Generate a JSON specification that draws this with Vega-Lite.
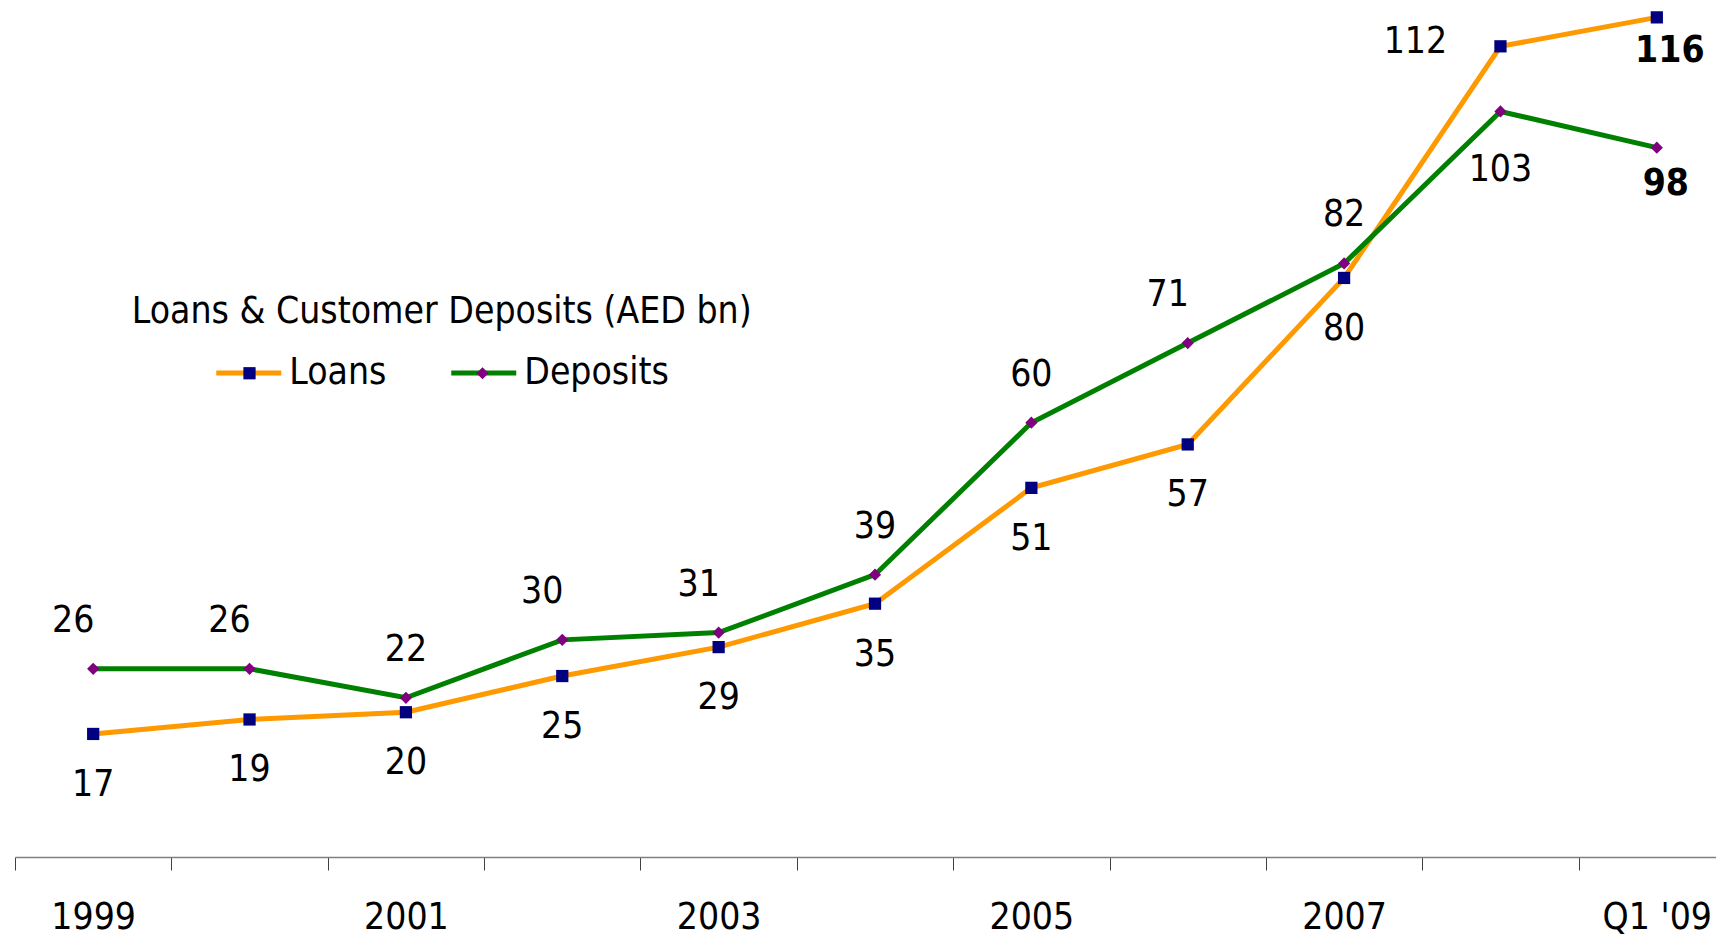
{
  "$schema": "https://vega.github.io/schema/vega-lite/v6.json",
  "width": 1716,
  "height": 857,
  "autosize": {"type": "none"},
  "padding": {"left": 0, "top": 0, "right": 0, "bottom": 79},
  "background": "white",
  "config": {
    "view": {"stroke": null},
    "font": "DejaVu Sans Condensed, Liberation Sans, sans-serif"
  },
  "data": {
    "values": [
      {"year": "1999", "series": "Loans", "value": 17},
      {"year": "2000", "series": "Loans", "value": 19},
      {"year": "2001", "series": "Loans", "value": 20},
      {"year": "2002", "series": "Loans", "value": 25},
      {"year": "2003", "series": "Loans", "value": 29},
      {"year": "2004", "series": "Loans", "value": 35},
      {"year": "2005", "series": "Loans", "value": 51},
      {"year": "2006", "series": "Loans", "value": 57},
      {"year": "2007", "series": "Loans", "value": 80},
      {"year": "2008", "series": "Loans", "value": 112},
      {"year": "Q1 '09", "series": "Loans", "value": 116},
      {"year": "1999", "series": "Deposits", "value": 26},
      {"year": "2000", "series": "Deposits", "value": 26},
      {"year": "2001", "series": "Deposits", "value": 22},
      {"year": "2002", "series": "Deposits", "value": 30},
      {"year": "2003", "series": "Deposits", "value": 31},
      {"year": "2004", "series": "Deposits", "value": 39},
      {"year": "2005", "series": "Deposits", "value": 60},
      {"year": "2006", "series": "Deposits", "value": 71},
      {"year": "2007", "series": "Deposits", "value": 82},
      {"year": "2008", "series": "Deposits", "value": 103},
      {"year": "Q1 '09", "series": "Deposits", "value": 98}
    ]
  },
  "encoding": {
    "x": {
      "field": "year",
      "type": "ordinal",
      "sort": null,
      "scale": {"type": "band", "range": [15, 1735], "paddingInner": 0, "paddingOuter": 0},
      "axis": {
        "title": null,
        "tickBand": "extent",
        "grid": false,
        "domainColor": "#7f7f7f",
        "domainWidth": 1.5,
        "tickColor": "#404040",
        "tickSize": 13,
        "tickWidth": 1,
        "labelFontSize": 37,
        "labelColor": "black",
        "labelPadding": 29,
        "labelAngle": 0,
        "labelOverlap": false,
        "labelFlush": false,
        "labelExpr": "indexof(['1999', '2001', '2003', '2005', '2007', \"Q1 '09\"], datum.value) >= 0 ? datum.label : ''"
      }
    },
    "y": {
      "field": "value",
      "type": "quantitative",
      "scale": {"domain": [0, 118.4], "nice": false},
      "axis": null
    }
  },
  "layer": [
    {
      "mark": {"type": "line", "strokeWidth": 5},
      "encoding": {
        "stroke": {
          "field": "series",
          "type": "nominal",
          "scale": {"domain": ["Loans", "Deposits"], "range": ["#FF9900", "#008000"]},
          "legend": {
            "orient": "none",
            "legendX": 131.75,
            "legendY": 294,
            "zindex": 0,
            "padding": 0,
            "direction": "horizontal",
            "title": "Loans & Customer Deposits (AED bn)",
            "titleFontSize": 37,
            "titleFontWeight": "normal",
            "titleColor": "black",
            "titleAnchor": "middle",
            "titleLimit": 1000,
            "titlePadding": 7,
            "symbolType": "stroke",
            "symbolSize": 4225,
            "symbolStrokeWidth": 5,
            "labelFontSize": 37,
            "labelColor": "black",
            "labelOffset": 5.5,
            "columnPadding": 54,
            "labelLimit": 400
          }
        }
      }
    },
    {
      "mark": {"type": "point", "filled": true, "opacity": 1, "size": 150},
      "encoding": {
        "fill": {
          "field": "series",
          "type": "nominal",
          "scale": {"domain": ["Deposits", "Loans"], "range": ["#800080", "#000080"]},
          "legend": {
            "orient": "none",
            "legendX": 243,
            "legendY": 354.5,
            "zindex": 1,
            "padding": 0,
            "direction": "horizontal",
            "title": null,
            "values": ["Loans", "Deposits"],
            "symbolSize": 150,
            "symbolOffset": -12,
            "symbolStrokeWidth": 0,
            "labelFontSize": 37,
            "labelOpacity": 0,
            "labelOffset": 0,
            "columnPadding": 110,
            "labelLimit": 400
          }
        },
        "shape": {
          "field": "series",
          "type": "nominal",
          "scale": {"domain": ["Deposits", "Loans"], "range": ["diamond", "square"]}
        }
      }
    },
    {
      "transform": [{"filter": {"and": [{"field": "series", "equal": "Loans"}, {"not": {"field": "year", "oneOf": ["2008", "Q1 '09"]}}]}}],
      "mark": {"type": "text", "fontSize": 37, "color": "black", "baseline": "middle", "align": "center", "dy": 51},
      "encoding": {"text": {"field": "value", "type": "quantitative"}}
    },
    {
      "transform": [{"filter": {"and": [{"field": "series", "equal": "Loans"}, {"field": "year", "equal": "2008"}]}}],
      "mark": {"type": "text", "fontSize": 37, "color": "black", "baseline": "middle", "align": "center", "dx": -85, "dy": -4},
      "encoding": {"text": {"field": "value", "type": "quantitative"}}
    },
    {
      "transform": [{"filter": {"and": [{"field": "series", "equal": "Loans"}, {"field": "year", "equal": "Q1 '09"}]}}],
      "mark": {"type": "text", "fontSize": 37, "fontWeight": "bold", "color": "black", "baseline": "middle", "align": "center", "dx": 13, "dy": 34},
      "encoding": {"text": {"field": "value", "type": "quantitative"}}
    },
    {
      "transform": [{"filter": {"and": [{"field": "series", "equal": "Deposits"}, {"field": "year", "oneOf": ["2001", "2004", "2005", "2007"]}]}}],
      "mark": {"type": "text", "fontSize": 37, "color": "black", "baseline": "middle", "align": "center", "dy": -48},
      "encoding": {"text": {"field": "value", "type": "quantitative"}}
    },
    {
      "transform": [{"filter": {"and": [{"field": "series", "equal": "Deposits"}, {"field": "year", "oneOf": ["1999", "2000", "2002", "2003", "2006"]}]}}],
      "mark": {"type": "text", "fontSize": 37, "color": "black", "baseline": "middle", "align": "center", "dx": -20, "dy": -48},
      "encoding": {"text": {"field": "value", "type": "quantitative"}}
    },
    {
      "transform": [{"filter": {"and": [{"field": "series", "equal": "Deposits"}, {"field": "year", "equal": "2008"}]}}],
      "mark": {"type": "text", "fontSize": 37, "color": "black", "baseline": "middle", "align": "center", "dy": 59},
      "encoding": {"text": {"field": "value", "type": "quantitative"}}
    },
    {
      "transform": [{"filter": {"and": [{"field": "series", "equal": "Deposits"}, {"field": "year", "equal": "Q1 '09"}]}}],
      "mark": {"type": "text", "fontSize": 37, "fontWeight": "bold", "color": "black", "baseline": "middle", "align": "center", "dx": 9, "dy": 36},
      "encoding": {"text": {"field": "value", "type": "quantitative"}}
    }
  ]
}
